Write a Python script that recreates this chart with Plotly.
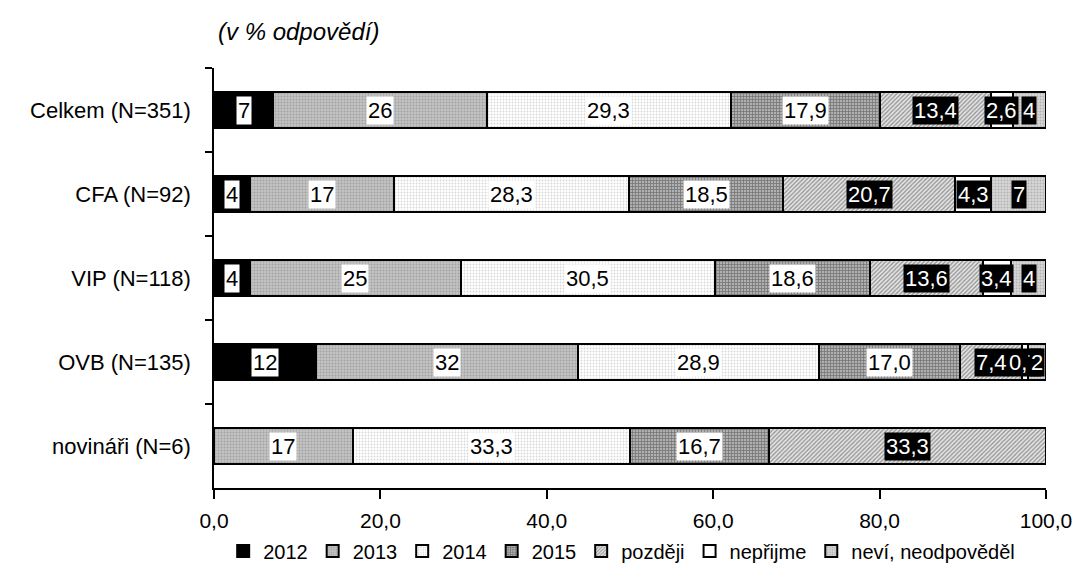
import plotly.graph_objects as go

categories = ["Celkem (N=351)", "CFA (N=92)", "VIP (N=118)", "OVB (N=135)", "novináři (N=6)"]
series_names = ["2012", "2013", "2014", "2015", "později", "nepřijme", "neví, neodpověděl"]

v2012 = [7.1, 4.3, 4.3, 12.2, 0.0]
v2013 = [25.7, 17.3, 25.4, 31.6, 16.7]
v2014 = [29.3, 28.3, 30.5, 28.9, 33.3]
v2015 = [17.9, 18.5, 18.6, 17.0, 16.7]
v_pozdeji = [13.4, 20.7, 13.6, 7.4, 33.3]
v_neprijme = [2.6, 4.3, 3.4, 0.7, 0.0]
v_nevi = [4.0, 6.6, 4.2, 2.2, 0.0]

x_ticks = [0, 20, 40, 60, 80, 100]

series_values = [v2012, v2013, v2014, v2015, v_pozdeji, v_neprijme, v_nevi]
label_decimals = [0, 0, 1, 1, 1, 1, 0]
label_dark = [False, False, False, False, True, True, True]

styles = [
    dict(color="#000000", pattern=dict(shape="")),
    dict(color="#bcbcbc", pattern=dict(shape=".", fgcolor="#808080", bgcolor="#c4c4c4", size=3, solidity=0.35)),
    dict(color="#f4f4f4", pattern=dict(shape=".", fgcolor="#b0b0b0", bgcolor="#ffffff", size=3, solidity=0.3)),
    dict(color="#7a7a7a", pattern=dict(shape="+", fgcolor="#3c3c3c", bgcolor="#b0b0b0", size=3, solidity=0.45)),
    dict(color="#a0a0a0", pattern=dict(shape="/", fgcolor="#3c3c3c", bgcolor="#e4e4e4", size=3, solidity=0.4)),
    dict(color="#ffffff", pattern=dict(shape="")),
    dict(color="#cccccc", pattern=dict(shape=".", fgcolor="#909090", bgcolor="#d6d6d6", size=3, solidity=0.35)),
]

FONT = "Liberation Sans, Arial, sans-serif"

fig = go.Figure()
for name, vals, st in zip(series_names, series_values, styles):
    fig.add_trace(go.Bar(
        y=categories, x=vals, name=name, orientation="h",
        marker=dict(color=st["color"], pattern=st["pattern"],
                    line=dict(color="#000000", width=2)),
        hoverinfo="x+name",
    ))

def fmt(v, d):
    return f"{v:.{d}f}".replace(".", ",")

annotations = []
for ci, cat in enumerate(categories):
    start = 0.0
    for si, vals in enumerate(series_values):
        v = vals[ci]
        if v > 0:
            dark = label_dark[si]
            annotations.append(dict(
                x=start + v / 2, y=cat, xref="x", yref="y",
                text=fmt(v, label_decimals[si]), showarrow=False,
                font=dict(family=FONT, size=22, color="#ffffff" if dark else "#000000"),
                bgcolor="#000000" if dark else "#ffffff",
                borderpad=1,
            ))
        start += v

annotations.append(dict(
    x=0.003, y=1.086, xref="paper", yref="paper", xanchor="left", yanchor="middle",
    text="<i>(v % odpovědí)</i>", showarrow=False,
    font=dict(family=FONT, size=24, color="#000000"),
))

# The page body has an 8px default margin on every side, so the figure is
# sized 16px smaller to fit the 1080x572 window without scrollbars.
fig.update_layout(
    barmode="stack",
    bargap=0.57,
    width=1064, height=556,
    margin=dict(l=206, r=26, t=60, b=76, autoexpand=False),
    plot_bgcolor="#ffffff", paper_bgcolor="#ffffff",
    separators=", ",
    font=dict(family=FONT, size=22, color="#000000"),
    showlegend=True,
    legend=dict(orientation="h", x=0.49, xanchor="center", y=-0.15, yanchor="middle",
                traceorder="normal", font=dict(family=FONT, size=20, color="#000000"),
                itemwidth=30, itemclick=False),
    annotations=annotations,
    xaxis=dict(range=[0, 100], tickvals=x_ticks, tickformat=".1f", ticks="outside",
               ticklen=9, tickwidth=1.5, tickcolor="#000000", showline=True,
               linecolor="#000000", linewidth=1.5, showgrid=False, zeroline=False,
               ticklabelstandoff=4, ticklabeloverflow="allow", automargin=False,
               tickfont=dict(family=FONT, size=21)),
    yaxis=dict(type="category", categoryorder="array", categoryarray=categories,
               autorange="reversed", tickson="boundaries", ticks="outside", ticklen=7,
               tickwidth=1.5, tickcolor="#000000", showline=True, linecolor="#000000",
               linewidth=1.5, showgrid=False, zeroline=False, ticklabelstandoff=17,
               automargin=False, tickfont=dict(family=FONT, size=22)),
)

fig.write_html("out.html")
